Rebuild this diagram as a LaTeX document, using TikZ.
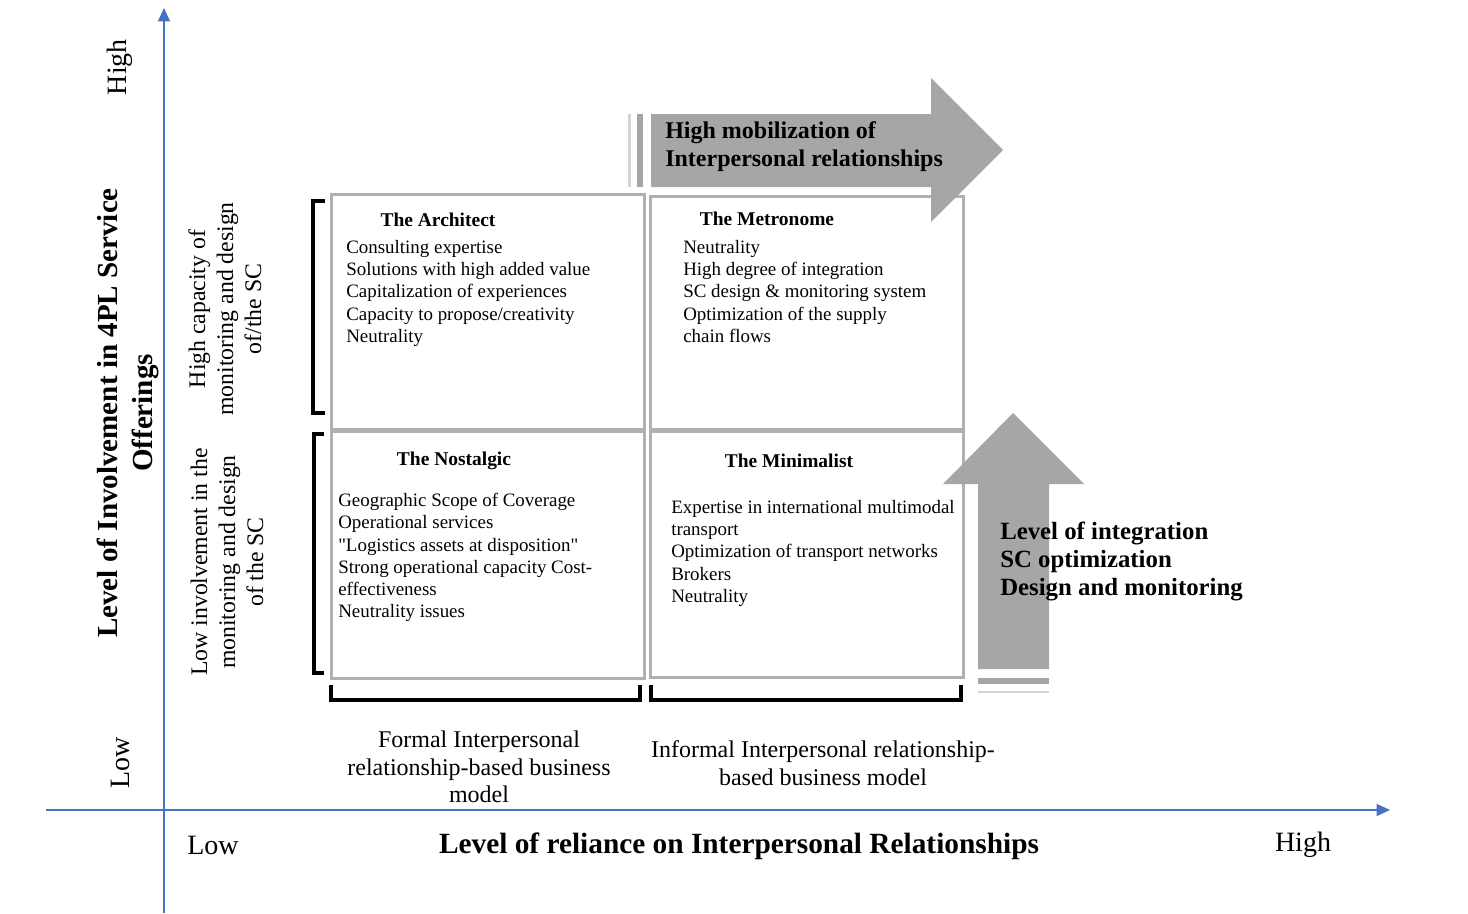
\documentclass[tikz,border=0pt]{standalone}
\usepackage{fontspec}
\setmainfont{Liberation Serif}
\usetikzlibrary{arrows.meta, positioning}
\definecolor{axisblue}{HTML}{4472C4}
\definecolor{arrowgray}{HTML}{A6A6A6}
\definecolor{stripegray}{HTML}{D4D4D4}
\definecolor{boxgray}{HTML}{B0B0B0}

\begin{document}
\begin{tikzpicture}[x=0.75pt, y=-0.75pt,
    axis/.style={axisblue, line width=1pt, -{Triangle[length=10pt, width=9pt]}},
    quad/.style={draw=boxgray, line width=2pt, inner sep=0pt, anchor=north west},
    qtitle/.style={font=\fontsize{14.6}{16.7}\selectfont\bfseries, inner sep=0pt},
    qitems/.style={font=\fontsize{14.2}{16.7}\selectfont, align=left, anchor=north west, inner sep=0pt},
    side/.style={font=\fontsize{17.8}{21}\selectfont, align=center, rotate=90, inner sep=0pt},
    bigarrow/.style={fill=arrowgray},
    bracket/.style={black, line width=2.4pt},
    level/.style={font=\fontsize{21}{22}\selectfont, inner sep=0pt}]
    \useasboundingbox (0,0) rectangle (1468,914);

    % Axes
    \coordinate (yfoot) at (164,913);
    \coordinate (ytip) at (164,8);
    \coordinate (xfoot) at (46,810);
    \coordinate (xtip) at (1390,810);
    \draw[axis] (yfoot) -- (ytip);
    \draw[axis] (xfoot) -- (xtip);

    \node[level, rotate=90] (yhigh) at (120,67) {High};
    \node[level, rotate=90] (ylow) at (120,763) {Low};
    \node[level] (xlow) at (213,845) {Low};
    \node[level] (xhigh) at (1303,845) {High};
    \node[font=\fontsize{22}{24}\selectfont\bfseries, inner sep=0pt] (xtitle) at (739,846) {Level of reliance on Interpersonal Relationships};
    \node[font=\fontsize{21.8}{26}\selectfont\bfseries, align=center, rotate=90, inner sep=0pt] (ytitle) at (128,413) {Level of Involvement in 4PL Service\\Offerings};

    % Side labels and brackets
    \node[side] (hicap) at (225,309) {High capacity of\\monitoring and design\\of/the SC};
    \node[side] (lowinv) at (227,562) {Low involvement in the\\monitoring and design\\of the SC};
    \draw[bracket] (325,201) -- (313,201) -- (313,413) -- (325,413);
    \draw[bracket] (324,434) -- (314,434) -- (314,673) -- (324,673);
    \draw[bracket] (331,685) -- (331,700) -- (640,700) -- (640,685);
    \draw[bracket] (651,685) -- (651,700) -- (961,700) -- (961,685);

    % Quadrants
    \node[quad, minimum width=234.75pt, minimum height=176.25pt] (arch) at (330,193) {};
    \node[quad, minimum width=234.75pt, minimum height=174.75pt] (metro) at (649,195) {};
    \node[quad, minimum width=234.75pt, minimum height=185.25pt] (nost) at (330,430) {};
    \node[quad, minimum width=234.75pt, minimum height=184.5pt] (mini) at (649,430) {};

    \node[qtitle] (archT) at (438,220) {The Architect};
    \node[qitems] (archL) at (346,240) {Consulting expertise\\Solutions with high added value\\Capitalization of experiences\\Capacity to propose/creativity\\Neutrality};
    \node[qtitle] (metroT) at (767,219) {The Metronome};
    \node[qitems] (metroL) at (683,240) {Neutrality\\High degree of integration\\SC design \& monitoring system\\Optimization of the supply\\chain flows};
    \node[qtitle] (nostT) at (454,461) {The Nostalgic};
    \node[qitems] (nostL) at (338,493) {Geographic Scope of Coverage\\Operational services\\\textquotedbl Logistics assets at disposition\textquotedbl\\Strong operational capacity Cost-\\effectiveness\\Neutrality issues};
    \node[qtitle] (miniT) at (789,461) {The Minimalist};
    \node[qitems] (miniL) at (671,500) {Expertise in international multimodal\\transport\\Optimization of transport networks\\Brokers\\Neutrality};

    % Business models
    \node[font=\fontsize{18}{20.6}\selectfont, align=center, inner sep=0pt] (formal) at (479,767) {Formal Interpersonal\\relationship-based business\\model};
    \node[font=\fontsize{18}{20.6}\selectfont, align=center, inner sep=0pt] (informal) at (823,763) {Informal Interpersonal relationship-\\based business model};

    % Block arrows
    \fill[bigarrow] (651,114) -- (931,114) -- (931,78) -- (1003,150) -- (931,222) -- (931,187) -- (651,187) -- cycle;
    \fill[arrowgray] (637,114) rectangle (643,187);
    \fill[stripegray] (628,114) rectangle (631,187);
    \node[font=\fontsize{18}{21}\selectfont\bfseries, align=left, anchor=west, inner sep=0pt] (mobil) at (665,147) {High mobilization of\\Interpersonal relationships};

    \fill[bigarrow] (978,669) -- (978,484) -- (943,484) -- (1013,413) -- (1084,484) -- (1049,484) -- (1049,669) -- cycle;
    \fill[arrowgray] (978,678) rectangle (1049,684);
    \fill[stripegray] (978,691) rectangle (1049,693);
    \node[font=\fontsize{18.6}{21}\selectfont\bfseries, align=left, anchor=west, inner sep=0pt] (integ) at (1000,561) {Level of integration\\SC optimization\\Design and monitoring};
\end{tikzpicture}
\end{document}
